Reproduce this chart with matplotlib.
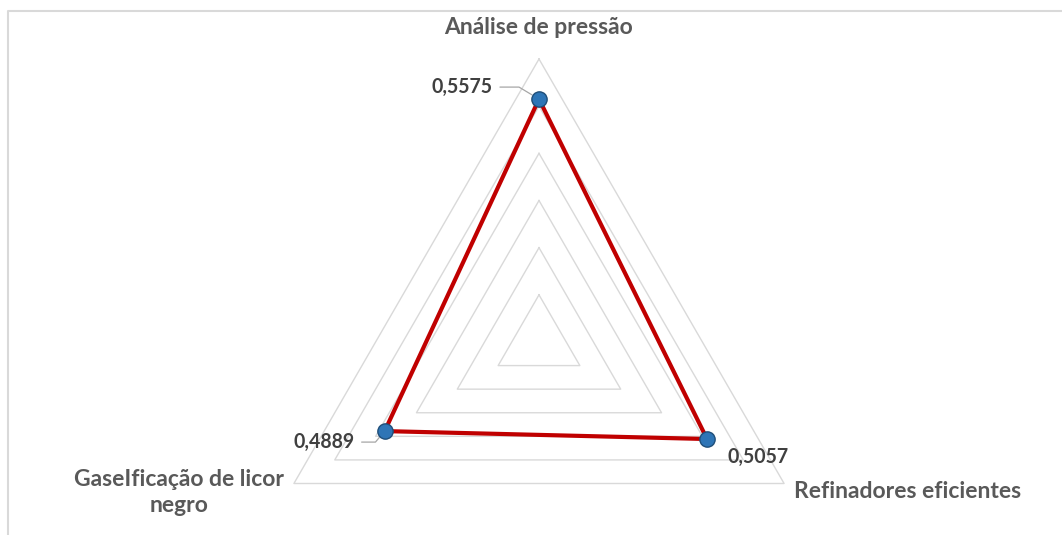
import numpy as np
import matplotlib
matplotlib.use("Agg")
import matplotlib.pyplot as plt
from matplotlib.lines import Line2D
from matplotlib import font_manager as fm

# Data
categories = ["Análise de pressão", "Refinadores eficientes", "GaseIficação de licor\nnegro"]
values = [0.5575, 0.5057, 0.4889]
value_labels = ["0,5575", "0,5057", "0,4889"]
r_min, r_max, r_step = 0.30, 0.60, 0.05

W, H, DPI = 1062, 535, 100
fig = plt.figure(figsize=(W / DPI, H / DPI), dpi=DPI)
fig.patch.set_facecolor("white")


def pick_bold_family(candidates):
    for fam in candidates:
        try:
            path = fm.findfont(fm.FontProperties(family=fam, weight="bold"),
                               fallback_to_default=False)
        except Exception:
            continue
        if "bold" in path.lower():
            return fam
    return "DejaVu Sans"


font = pick_bold_family(["Lato", "Open Sans", "Noto Sans", "Liberation Sans"])

renderer = fig.canvas.get_renderer()


def fit_size(text, width_px):
    t = fig.text(0, 0, text, fontsize=10, family=font, fontweight="bold")
    w = t.get_window_extent(renderer).width
    t.remove()
    return 10 * width_px / w


cat_size = fit_size("Refinadores eficientes", 228)
val_size = fit_size("0,5575", 61)

# Polar axes sized so the outer ring spans the plot area
cx, cy, R = 539, 342, 283
ax = fig.add_axes([(cx - R) / W, (H - cy - R) / H, 2 * R / W, 2 * R / H],
                  projection="polar")
ax.set_theta_offset(np.pi / 2)
ax.set_theta_direction(-1)
ax.set_ylim(r_min, r_max)
ax.grid(False)
ax.set_xticks([])
ax.set_yticks([])
ax.spines["polar"].set_visible(False)
ax.patch.set_alpha(0)

n = len(categories)
angles = np.arange(n) * 2 * np.pi / n
closed = np.append(angles, angles[0])

# Triangular gridlines
for level in np.arange(r_min + r_step, r_max + 1e-9, r_step):
    ax.plot(closed, [level] * (n + 1), color="#D9D9D9", lw=1.0, clip_on=False, zorder=1)

# Series
ax.plot(closed, values + values[:1], color="#C00000", lw=3.0, clip_on=False, zorder=3,
        solid_joinstyle="miter")
ax.plot(angles, values, ls="none", marker="o", ms=11, mfc="#2E75B6", mec="#1F4E79",
        mew=1.0, clip_on=False, zorder=4)

lab_color = "#595959"
val_color = "#404040"

# Category labels at the outer ring vertices
cat_offsets = [(0, 31), (10, -8), (-10, -9)]
cat_align = [("center", "center"), ("left", "center"), ("right", "center")]
for ang, txt, off, (ha, va) in zip(angles, categories, cat_offsets, cat_align):
    ax.annotate(txt, xy=(ang, r_max), xytext=off, textcoords="offset pixels",
                ha=ha, va=va, multialignment="center", fontsize=cat_size,
                fontweight="bold", color=lab_color, family=font,
                linespacing=1.25, annotation_clip=False)

# Value labels with leader lines
leader = dict(arrowstyle="-", color="#A6A6A6", lw=0.9, shrinkA=3, shrinkB=6)
ax.annotate(value_labels[0], xy=(angles[0], values[0]), xytext=(-46, 12),
            textcoords="offset pixels", ha="right", va="center", fontsize=val_size,
            fontweight="bold", color=val_color, family=font, annotation_clip=False,
            arrowprops=dict(leader, connectionstyle="angle,angleA=0,angleB=149,rad=0"))
ax.annotate(value_labels[1], xy=(angles[1], values[1]), xytext=(20, -18),
            textcoords="offset pixels", ha="left", va="center", fontsize=val_size,
            fontweight="bold", color=val_color, family=font, annotation_clip=False)
ax.annotate(value_labels[2], xy=(angles[2], values[2]), xytext=(-30, -11),
            textcoords="offset pixels", ha="right", va="center", fontsize=val_size,
            fontweight="bold", color=val_color, family=font, annotation_clip=False,
            arrowprops=dict(leader, connectionstyle="angle,angleA=0,angleB=-130,rad=0"))

# Chart area border (top and left edges)
fig.add_artist(Line2D([8 / W, 8 / W, 1.0], [0.0, 1 - 10.5 / H, 1 - 10.5 / H],
                      transform=fig.transFigure, color="#D9D9D9", lw=1.5))

fig.savefig("out.png", dpi=DPI, facecolor="white")
